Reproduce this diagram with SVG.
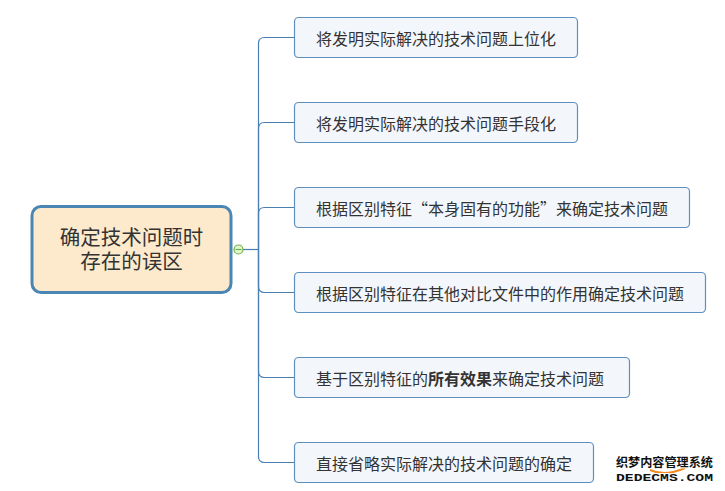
<svg xmlns="http://www.w3.org/2000/svg" width="725" height="491" viewBox="0 0 725 491">
<style>
.t{font-family:"Noto Sans CJK SC","Microsoft YaHei",sans-serif;fill:#333;}
.ct{font-family:"Liberation Sans","Noto Sans CJK SC",sans-serif;font-size:20.5px;text-anchor:middle;}
.nt{font-size:16px;dominant-baseline:central;}
.q{font-feature-settings:"fwid" 1;}
.box{fill:#F3F7FC;stroke:#5E8FC0;stroke-width:1.2;}
.con{fill:none;stroke:#4A7FB2;stroke-width:1.2;}
</style>
<rect width="725" height="491" fill="#fff"/>
<g id="connectors">
<path class="con" d="M243 249.5 H258.5"/>
<path class="con" d="M294.5 37.5 H264.5 Q258.5 37.5 258.5 43.5 V249.5"/>
<path class="con" d="M294.5 122.5 H264.5 Q258.5 122.5 258.5 128.5 V249.5"/>
<path class="con" d="M294.5 207.5 H264.5 Q258.5 207.5 258.5 213.5 V249.5"/>
<path class="con" d="M294.5 292.5 H264.5 Q258.5 292.5 258.5 286.5 V249.5"/>
<path class="con" d="M294.5 377.5 H264.5 Q258.5 377.5 258.5 371.5 V249.5"/>
<path class="con" d="M294.5 462.5 H264.5 Q258.5 462.5 258.5 456.5 V249.5"/>
</g>
<g id="root">
<rect x="32" y="206.5" width="199" height="86" rx="9" fill="#FDEACD" stroke="#4A86B4" stroke-width="3"/>
<text class="t ct" x="131.5" y="244.5">确定技术问题时<tspan x="131.5" y="268.5">存在的误区</tspan></text>
<circle cx="238.5" cy="249.5" r="4.5" fill="#E6F4D6" stroke="#6DB33F" stroke-width="1.2"/>
<path d="M235.5 249.5 H241.5" stroke="#6DB33F" stroke-width="1.2"/>
</g>
<g id="n1">
<rect class="box" x="294.5" y="17.5" width="283" height="40" rx="4"/>
<text class="t nt" x="316" y="37.5">将发明实际解决的技术问题上位化</text>
</g>
<g id="n2">
<rect class="box" x="294.5" y="102.5" width="283" height="40" rx="4"/>
<text class="t nt" x="316" y="122.5">将发明实际解决的技术问题手段化</text>
</g>
<g id="n3">
<rect class="box" x="294.5" y="187.5" width="395" height="40" rx="4"/>
<text class="t nt" x="316" y="207.5">根据区别特征<tspan class="q" x="412">“</tspan><tspan x="428">本身固有的功能</tspan><tspan class="q" x="540">”</tspan><tspan x="556">来确定技术问题</tspan></text>
</g>
<g id="n4">
<rect class="box" x="294.5" y="272.5" width="411" height="40" rx="4"/>
<text class="t nt" x="316" y="292.5">根据区别特征在其他对比文件中的作用确定技术问题</text>
</g>
<g id="n5">
<rect class="box" x="294.5" y="357.5" width="335" height="40" rx="4"/>
<text class="t nt" x="316" y="377.5">基于区别特征的<tspan font-weight="bold">所有效果</tspan>来确定技术问题</text>
</g>
<g id="n6">
<rect class="box" x="294.5" y="442.5" width="299" height="40" rx="4"/>
<text class="t nt" x="316" y="462.5">直接省略实际解决的技术问题的确定</text>
</g>
<g id="watermark">
<path d="M650 470 Q665 477 685 468" fill="none" stroke="#F08A1C" stroke-width="2"/>
<text x="616" y="467" font-family="'Noto Sans CJK SC',sans-serif" font-size="12" font-weight="bold" fill="#111" stroke="#fff" stroke-width="2" paint-order="stroke" textLength="97" lengthAdjust="spacingAndGlyphs">织梦内容管理系统</text>
<text x="616" y="480.5" font-family="'Liberation Mono',monospace" font-size="11" font-weight="bold" fill="#111" stroke="#fff" stroke-width="2" paint-order="stroke" textLength="97" lengthAdjust="spacingAndGlyphs">DEDECMS.COM</text>
</g>
</svg>
